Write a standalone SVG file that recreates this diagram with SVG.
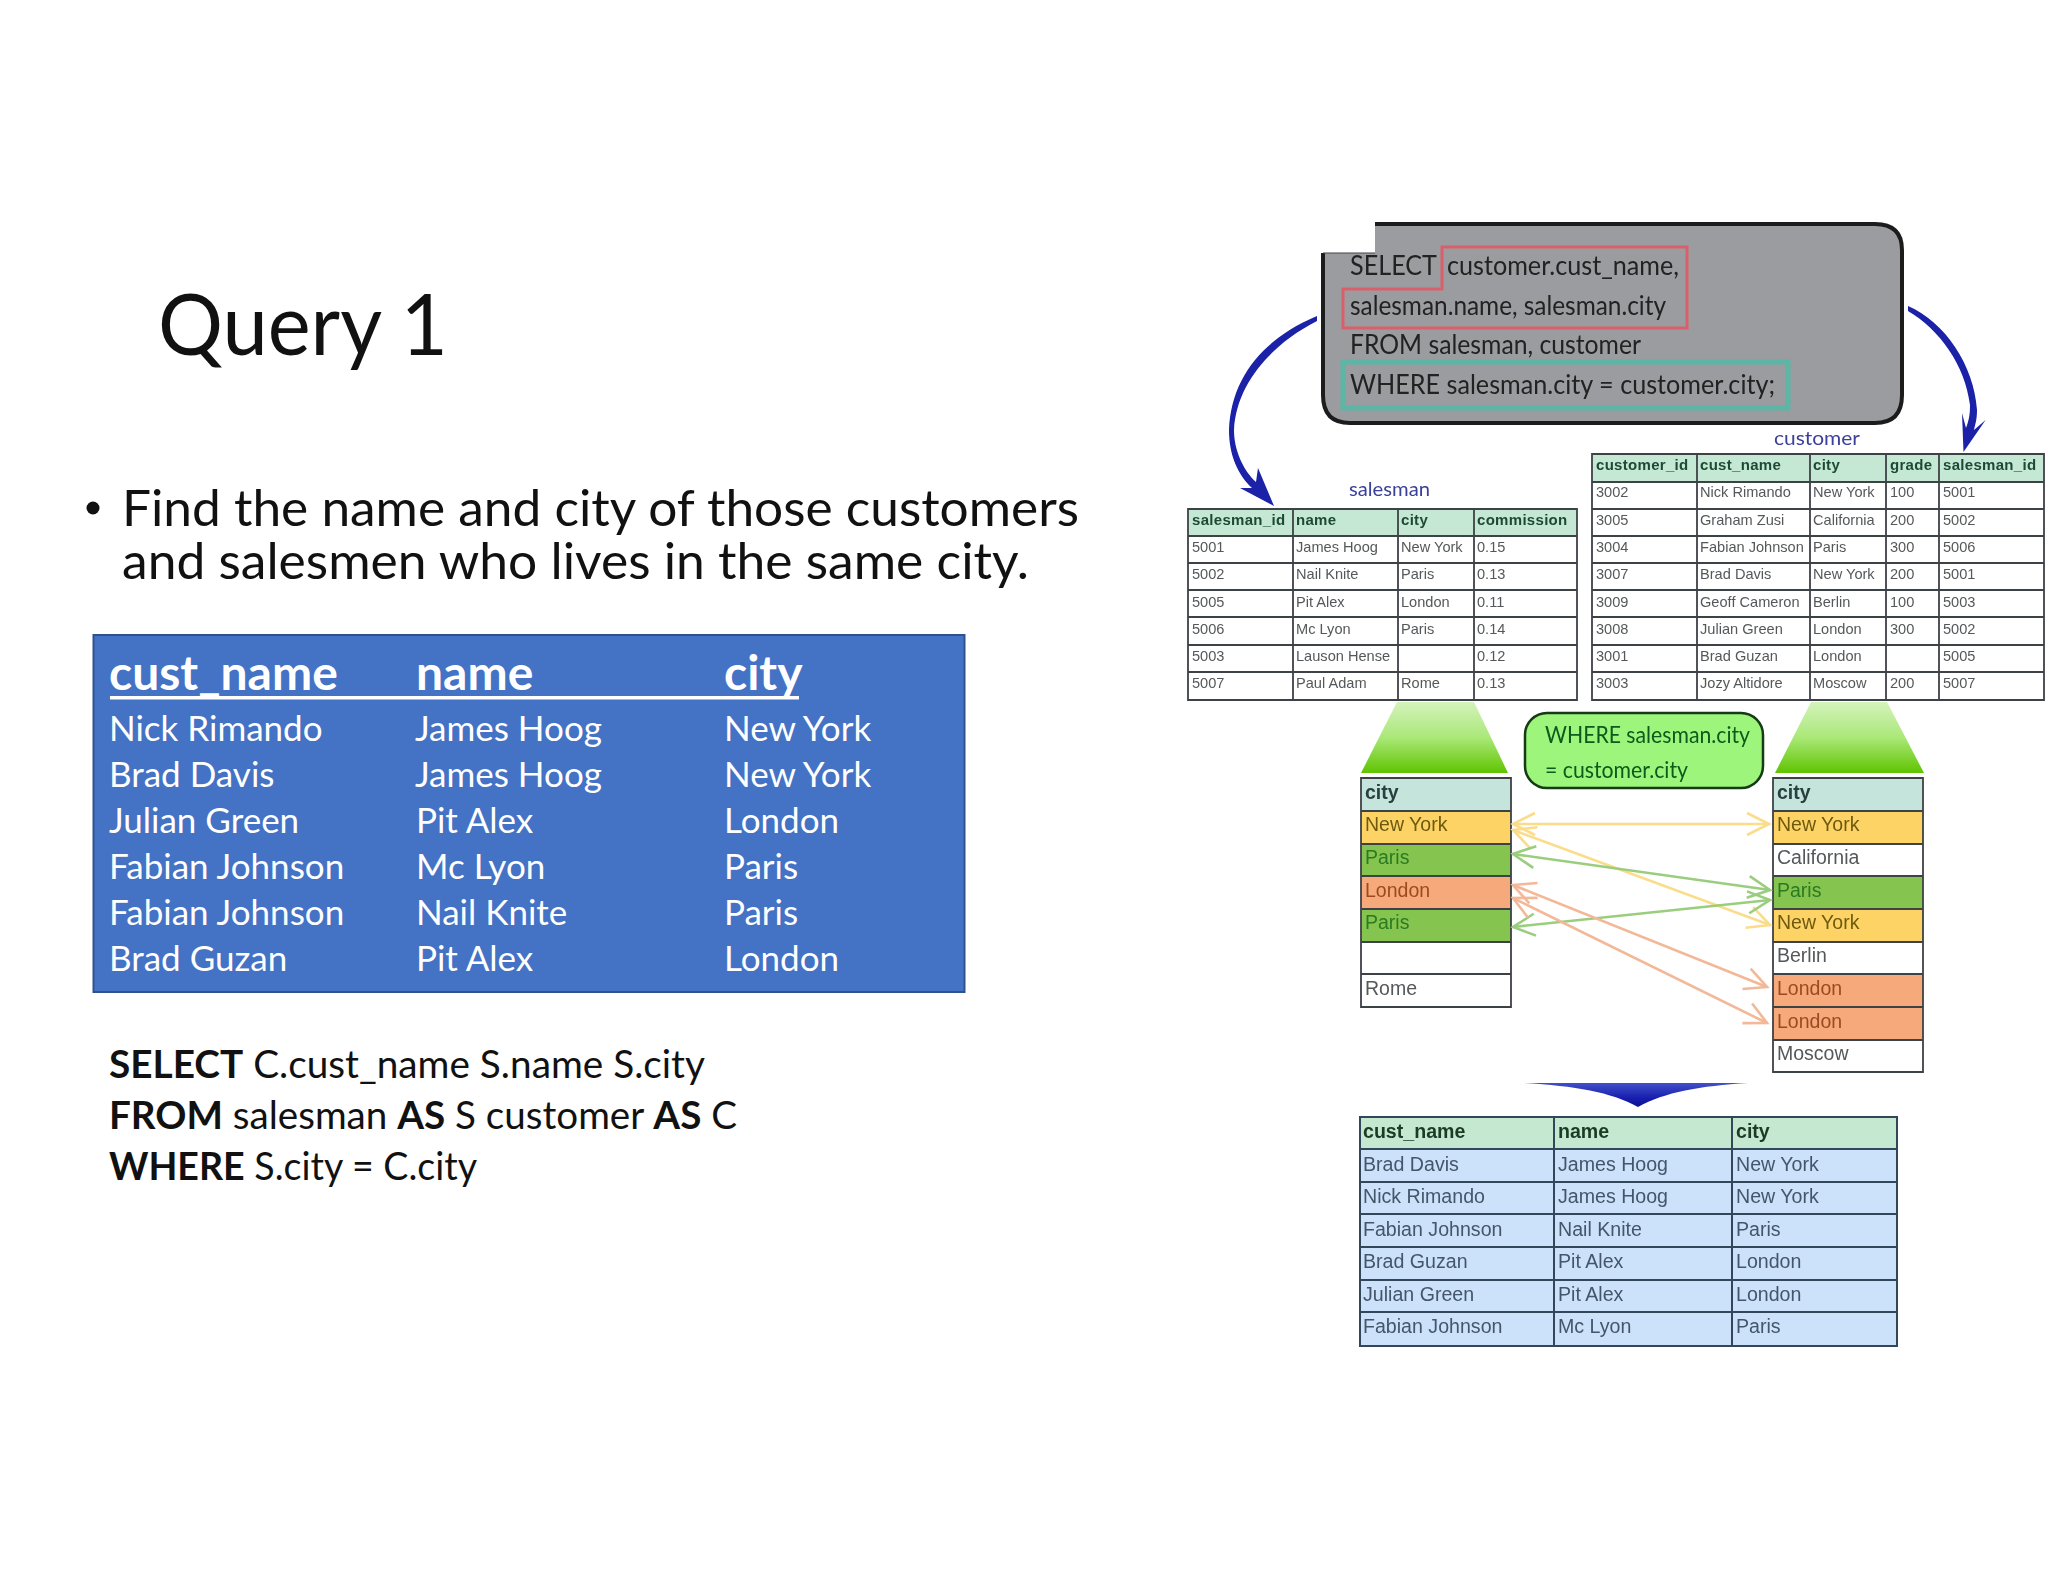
<svg xmlns="http://www.w3.org/2000/svg" width="2048" height="1582" viewBox="0 0 2048 1582">
<style>
text{font-family:"Lato","Liberation Sans",sans-serif}
.t{font-family:"Liberation Sans",Arial,sans-serif;font-size:14.6px;fill:#55585a}
.h{font-family:"Liberation Sans",Arial,sans-serif;font-size:15px;font-weight:700;fill:#1f4a35;letter-spacing:.3px}
.c{font-family:"Liberation Sans",Arial,sans-serif;font-size:19.5px;fill:#55585a}
.ch{font-family:"Liberation Sans",Arial,sans-serif;font-size:19.5px;font-weight:700;fill:#2a4040}
.r{font-family:"Liberation Sans",Arial,sans-serif;font-size:19.6px;fill:#44566a}
.rh{font-family:"Liberation Sans",Arial,sans-serif;font-size:19.6px;font-weight:700;fill:#1c3a25}
.grid{fill:none;stroke:#3e4246;stroke-width:1.8}
.w{fill:#fff;font-size:35px}
.wh{fill:#fff;font-size:48px;font-weight:700}
.q{fill:#222;font-size:27px}
.lbl{fill:#3a3f9a;font-size:20px}
.sql{fill:#111;font-size:38px}
.b{font-weight:700}
.w1{font-size:23px;fill:#0b5a1a}
.arr{fill:none;stroke-width:2.6}
.soft{filter:url(#soft)}
</style>
<defs>
<filter id="soft" x="-5%" y="-5%" width="110%" height="110%"><feGaussianBlur stdDeviation="0.45"/></filter>
<linearGradient id="g" x1="0" y1="0" x2="0" y2="1"><stop offset="0" stop-color="#d4f3bc"/><stop offset=".5" stop-color="#aae878"/><stop offset="1" stop-color="#5fc400"/></linearGradient>
<linearGradient id="bl" x1="0" y1="0" x2="0" y2="1"><stop offset="0" stop-color="#4050c8"/><stop offset=".6" stop-color="#1a20b0"/><stop offset="1" stop-color="#0a0f90"/></linearGradient>
<marker id="my" markerUnits="userSpaceOnUse" markerWidth="28" markerHeight="28" refX="24" refY="14" orient="auto-start-reverse"><path d="M2,3 L24,14 L2,25" fill="none" stroke="#fbdc8a" stroke-width="2.6"/></marker>
<marker id="mg" markerUnits="userSpaceOnUse" markerWidth="28" markerHeight="28" refX="24" refY="14" orient="auto-start-reverse"><path d="M2,3 L24,14 L2,25" fill="none" stroke="#9ace7e" stroke-width="2.6"/></marker>
<marker id="mo" markerUnits="userSpaceOnUse" markerWidth="28" markerHeight="28" refX="24" refY="14" orient="auto-start-reverse"><path d="M2,3 L24,14 L2,25" fill="none" stroke="#f2b898" stroke-width="2.6"/></marker>
</defs>
<rect width="2048" height="1582" fill="#fff"/>

<g id="title"><text x="158" y="355" font-size="86" fill="#111" textLength="290" lengthAdjust="spacingAndGlyphs">Query 1</text></g>

<g id="bullet">
<circle cx="93" cy="508" r="6.5" fill="#111"/>
<text x="122" y="526" font-size="50" fill="#111" textLength="957" lengthAdjust="spacingAndGlyphs">Find the name and city of those customers</text>
<text x="122" y="579" font-size="50" fill="#111" textLength="907" lengthAdjust="spacingAndGlyphs">and salesmen who lives in the same city.</text>
</g>

<g id="result-box">
<rect x="93.500" y="635" width="871" height="357" fill="#4472c4" stroke="#2f528f" stroke-width="2"/>
<text class="wh" x="109" y="690">cust_name</text><text class="wh" x="416" y="690">name</text><text class="wh" x="724" y="690">city</text>
<rect x="110" y="696" width="689" height="3.500" fill="#fff"/>
<text class="w" x="109" y="741">Nick Rimando</text><text class="w" x="415" y="741">James Hoog</text><text class="w" x="724" y="741">New York</text>
<text class="w" x="109" y="787">Brad Davis</text><text class="w" x="415" y="787">James Hoog</text><text class="w" x="724" y="787">New York</text>
<text class="w" x="109" y="833">Julian Green</text><text class="w" x="416" y="833">Pit Alex</text><text class="w" x="724" y="833">London</text>
<text class="w" x="109" y="879">Fabian Johnson</text><text class="w" x="416" y="879">Mc Lyon</text><text class="w" x="724" y="879">Paris</text>
<text class="w" x="109" y="925">Fabian Johnson</text><text class="w" x="416" y="925">Nail Knite</text><text class="w" x="724" y="925">Paris</text>
<text class="w" x="109" y="971">Brad Guzan</text><text class="w" x="416" y="971">Pit Alex</text><text class="w" x="724" y="971">London</text>
</g>

<g id="sql">
<text class="sql" x="109" y="1078" textLength="596" lengthAdjust="spacingAndGlyphs"><tspan class="b">SELECT</tspan> C.cust_name S.name S.city</text>
<text class="sql" x="109" y="1129" textLength="628" lengthAdjust="spacingAndGlyphs"><tspan class="b">FROM</tspan> salesman <tspan class="b">AS</tspan> S customer <tspan class="b">AS</tspan> C</text>
<text class="sql" x="109" y="1180" textLength="368" lengthAdjust="spacingAndGlyphs"><tspan class="b">WHERE</tspan> S.city = C.city</text>
</g>

<g id="query-box" class="soft">
<path d="M1375,224 H1875 Q1902,224 1902,250 V395 Q1902,423 1875,423 H1350 Q1323,423 1323,395 V253 H1375 Z" fill="#9a9c9f"/>
<path d="M1375,224 H1875 Q1902,224 1902,250 V395 Q1902,423 1875,423 H1350 Q1323,423 1323,395 V253" fill="none" stroke="#1c1c1c" stroke-width="4"/>
<path d="M1323,253 H1375" stroke="#444" stroke-width="1" fill="none"/>
<path d="M1442,247 H1687 V328 H1343 V289 H1442 Z" fill="none" stroke="#d9606a" stroke-width="3"/>
<rect x="1343" y="362" width="445" height="46" fill="none" stroke="#5bb5a5" stroke-width="5"/>
<text class="q" x="1350" y="275" textLength="87" lengthAdjust="spacingAndGlyphs">SELECT</text>
<text class="q" x="1447" y="275" textLength="232" lengthAdjust="spacingAndGlyphs">customer.cust_name,</text>
<text class="q" x="1350" y="315" textLength="316" lengthAdjust="spacingAndGlyphs">salesman.name, salesman.city</text>
<text class="q" x="1350" y="354" textLength="291" lengthAdjust="spacingAndGlyphs">FROM salesman, customer</text>
<text class="q" x="1350" y="394" textLength="425" lengthAdjust="spacingAndGlyphs">WHERE salesman.city = customer.city;</text>
</g>

<g id="salesman-table" class="soft">
<text class="lbl" x="1349" y="496" textLength="81" lengthAdjust="spacingAndGlyphs">salesman</text>
<rect x="1188" y="509" width="389" height="27" fill="#c5e8d5"/>
<path class="grid" d="M1188,509 H1577 V700 H1188 Z M1188,536 H1577 M1188,563 H1577 M1188,590 H1577 M1188,617 H1577 M1188,645 H1577 M1188,672 H1577 M1293,509 V700 M1398,509 V700 M1474,509 V700"/>
<text class="h" x="1192" y="525">salesman_id</text><text class="h" x="1296" y="525">name</text><text class="h" x="1401" y="525">city</text><text class="h" x="1477" y="525">commission</text>
<text class="t" x="1192" y="552">5001</text><text class="t" x="1296" y="552">James Hoog</text><text class="t" x="1401" y="552">New York</text><text class="t" x="1477" y="552">0.15</text>
<text class="t" x="1192" y="579">5002</text><text class="t" x="1296" y="579">Nail Knite</text><text class="t" x="1401" y="579">Paris</text><text class="t" x="1477" y="579">0.13</text>
<text class="t" x="1192" y="607">5005</text><text class="t" x="1296" y="607">Pit Alex</text><text class="t" x="1401" y="607">London</text><text class="t" x="1477" y="607">0.11</text>
<text class="t" x="1192" y="634">5006</text><text class="t" x="1296" y="634">Mc Lyon</text><text class="t" x="1401" y="634">Paris</text><text class="t" x="1477" y="634">0.14</text>
<text class="t" x="1192" y="661">5003</text><text class="t" x="1296" y="661">Lauson Hense</text><text class="t" x="1477" y="661">0.12</text>
<text class="t" x="1192" y="688">5007</text><text class="t" x="1296" y="688">Paul Adam</text><text class="t" x="1401" y="688">Rome</text><text class="t" x="1477" y="688">0.13</text>
</g>

<g id="customer-table" class="soft">
<text class="lbl" x="1774" y="445" textLength="86" lengthAdjust="spacingAndGlyphs">customer</text>
<rect x="1592" y="454" width="452" height="28" fill="#c5e8d5"/>
<path class="grid" d="M1592,454 H2044 V700 H1592 Z M1592,482 H2044 M1592,509 H2044 M1592,536 H2044 M1592,563 H2044 M1592,590 H2044 M1592,617 H2044 M1592,645 H2044 M1592,672 H2044 M1697,454 V700 M1810,454 V700 M1886,454 V700 M1939,454 V700"/>
<text class="h" x="1596" y="470">customer_id</text><text class="h" x="1700" y="470">cust_name</text><text class="h" x="1813" y="470">city</text><text class="h" x="1890" y="470">grade</text><text class="h" x="1943" y="470">salesman_id</text>
<text class="t" x="1596" y="497">3002</text><text class="t" x="1700" y="497">Nick Rimando</text><text class="t" x="1813" y="497">New York</text><text class="t" x="1890" y="497">100</text><text class="t" x="1943" y="497">5001</text>
<text class="t" x="1596" y="525">3005</text><text class="t" x="1700" y="525">Graham Zusi</text><text class="t" x="1813" y="525">California</text><text class="t" x="1890" y="525">200</text><text class="t" x="1943" y="525">5002</text>
<text class="t" x="1596" y="552">3004</text><text class="t" x="1700" y="552">Fabian Johnson</text><text class="t" x="1813" y="552">Paris</text><text class="t" x="1890" y="552">300</text><text class="t" x="1943" y="552">5006</text>
<text class="t" x="1596" y="579">3007</text><text class="t" x="1700" y="579">Brad Davis</text><text class="t" x="1813" y="579">New York</text><text class="t" x="1890" y="579">200</text><text class="t" x="1943" y="579">5001</text>
<text class="t" x="1596" y="607">3009</text><text class="t" x="1700" y="607">Geoff Cameron</text><text class="t" x="1813" y="607">Berlin</text><text class="t" x="1890" y="607">100</text><text class="t" x="1943" y="607">5003</text>
<text class="t" x="1596" y="634">3008</text><text class="t" x="1700" y="634">Julian Green</text><text class="t" x="1813" y="634">London</text><text class="t" x="1890" y="634">300</text><text class="t" x="1943" y="634">5002</text>
<text class="t" x="1596" y="661">3001</text><text class="t" x="1700" y="661">Brad Guzan</text><text class="t" x="1813" y="661">London</text><text class="t" x="1943" y="661">5005</text>
<text class="t" x="1596" y="688">3003</text><text class="t" x="1700" y="688">Jozy Altidore</text><text class="t" x="1813" y="688">Moscow</text><text class="t" x="1890" y="688">200</text><text class="t" x="1943" y="688">5007</text>
</g>

<g id="funnel-left"><path d="M1397,702 H1474 L1508,773 H1361 Z" fill="url(#g)"/></g>
<g id="funnel-right"><path d="M1811,702 H1887 L1924,773 H1775 Z" fill="url(#g)"/></g>

<g id="where-box" class="soft">
<rect x="1525" y="713" width="238" height="75" rx="22" fill="#9df57c" stroke="#123a12" stroke-width="2.500"/>
<text class="w1" x="1545" y="743" textLength="205" lengthAdjust="spacingAndGlyphs">WHERE salesman.city</text>
<text class="w1" x="1545" y="778" textLength="143" lengthAdjust="spacingAndGlyphs">= customer.city</text>
</g>

<g id="city-left" class="soft">
<rect x="1361" y="778" width="150" height="33" fill="#c4e4dc"/>
<rect x="1361" y="811" width="150" height="33" fill="#fdd365"/>
<rect x="1361" y="844" width="150" height="32" fill="#85c450"/>
<rect x="1361" y="876" width="150" height="33" fill="#f6a97a"/>
<rect x="1361" y="909" width="150" height="33" fill="#85c450"/>
<path class="grid" d="M1361,778 H1511 V1007 H1361 Z M1361,811 H1511 M1361,844 H1511 M1361,876 H1511 M1361,909 H1511 M1361,942 H1511 M1361,974 H1511"/>
<text class="ch" x="1365" y="799">city</text>
<text class="c" x="1365" y="831" style="fill:#6d5a10">New York</text>
<text class="c" x="1365" y="864" style="fill:#2c7a22">Paris</text>
<text class="c" x="1365" y="897" style="fill:#9c4a22">London</text>
<text class="c" x="1365" y="929" style="fill:#2c7a22">Paris</text>
<text class="c" x="1365" y="995">Rome</text>
</g>

<g id="city-right" class="soft">
<rect x="1773" y="778" width="150" height="33" fill="#c4e4dc"/>
<rect x="1773" y="811" width="150" height="33" fill="#fdd365"/>
<rect x="1773" y="876" width="150" height="33" fill="#85c450"/>
<rect x="1773" y="909" width="150" height="33" fill="#fdd365"/>
<rect x="1773" y="974" width="150" height="66" fill="#f6a97a"/>
<path class="grid" d="M1773,778 H1923 V1072 H1773 Z M1773,811 H1923 M1773,844 H1923 M1773,876 H1923 M1773,909 H1923 M1773,942 H1923 M1773,974 H1923 M1773,1007 H1923 M1773,1040 H1923"/>
<text class="ch" x="1777" y="799">city</text>
<text class="c" x="1777" y="831" style="fill:#6d5a10">New York</text>
<text class="c" x="1777" y="864">California</text>
<text class="c" x="1777" y="897" style="fill:#2c7a22">Paris</text>
<text class="c" x="1777" y="929" style="fill:#6d5a10">New York</text>
<text class="c" x="1777" y="962">Berlin</text>
<text class="c" x="1777" y="995" style="fill:#9c4a22">London</text>
<text class="c" x="1777" y="1028" style="fill:#9c4a22">London</text>
<text class="c" x="1777" y="1060">Moscow</text>
</g>

<g id="result-table" class="soft">
<rect x="1360" y="1117" width="537" height="229" fill="#cbe2fa"/>
<rect x="1360" y="1117" width="537" height="32" fill="#c5e8d0"/>
<path class="grid" d="M1360,1117 H1897 V1346 H1360 Z M1360,1149 H1897 M1360,1182 H1897 M1360,1214 H1897 M1360,1247 H1897 M1360,1280 H1897 M1360,1312 H1897 M1554,1117 V1346 M1732,1117 V1346" style="stroke:#33475a;stroke-width:2"/>
<text class="rh" x="1363" y="1138">cust_name</text><text class="rh" x="1558" y="1138">name</text><text class="rh" x="1736" y="1138">city</text>
<text class="r" x="1363" y="1171">Brad Davis</text><text class="r" x="1558" y="1171">James Hoog</text><text class="r" x="1736" y="1171">New York</text>
<text class="r" x="1363" y="1203">Nick Rimando</text><text class="r" x="1558" y="1203">James Hoog</text><text class="r" x="1736" y="1203">New York</text>
<text class="r" x="1363" y="1236">Fabian Johnson</text><text class="r" x="1558" y="1236">Nail Knite</text><text class="r" x="1736" y="1236">Paris</text>
<text class="r" x="1363" y="1268">Brad Guzan</text><text class="r" x="1558" y="1268">Pit Alex</text><text class="r" x="1736" y="1268">London</text>
<text class="r" x="1363" y="1301">Julian Green</text><text class="r" x="1558" y="1301">Pit Alex</text><text class="r" x="1736" y="1301">London</text>
<text class="r" x="1363" y="1333">Fabian Johnson</text><text class="r" x="1558" y="1333">Mc Lyon</text><text class="r" x="1736" y="1333">Paris</text>
</g>

<g id="connectors" class="soft">
<path d="M1317,316 C1260,340 1231,380 1229,430 C1229,455 1238,475 1252,488 L1240,488 L1274,506 L1258,468 L1256,482 C1243,470 1234,450 1234,430 C1236,385 1270,345 1317,321 Z" fill="#1a20a8"/>
<path d="M1908,306 C1945,322 1974,365 1977,410 C1977,420 1975,425 1974,430 L1985.600,420 L1963.500,452 L1962,413 L1966,428 C1969,420 1970,415 1970,405 C1965,365 1940,330 1908,311 Z" fill="#1a20a8"/>
<path d="M1524,1083 H1748 C1700,1086 1665,1092 1638,1107 C1611,1092 1575,1086 1524,1083 Z" fill="url(#bl)"/>
<path class="arr" d="M1513,824 H1769" stroke="#fbdc8a" marker-start="url(#my)" marker-end="url(#my)"/>
<path class="arr" d="M1513,830 L1770,925" stroke="#fbdc8a" marker-start="url(#my)" marker-end="url(#my)"/>
<path class="arr" d="M1513,854 L1770,890" stroke="#9ace7e" marker-start="url(#mg)" marker-end="url(#mg)"/>
<path class="arr" d="M1513,927 L1770,900" stroke="#9ace7e" marker-start="url(#mg)" marker-end="url(#mg)"/>
<path class="arr" d="M1513,885 L1767,987" stroke="#f2b898" marker-start="url(#mo)" marker-end="url(#mo)"/>
<path class="arr" d="M1513,898 L1767,1023" stroke="#f2b898" marker-start="url(#mo)" marker-end="url(#mo)"/>
</g>
</svg>
